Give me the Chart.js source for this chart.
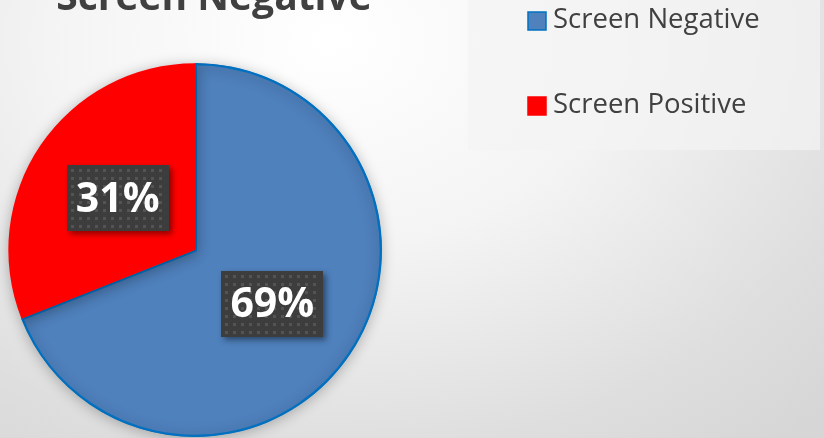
<!DOCTYPE html>
<html>
<head>
<meta charset="utf-8">
<script src="https://cdn.jsdelivr.net/npm/chart.js@4.4.0/dist/chart.umd.min.js"></script>
<style>
  html, body { margin: 0; padding: 0; }
  body {
    width: 824px; height: 438px; overflow: hidden;
    background: radial-gradient(ellipse 700px 520px at 330px 40px, #ffffff 0%, #f4f4f4 40%, #dedede 80%, #d6d6d6 100%);
  }
  #wrap { position: relative; width: 824px; height: 438px; }
</style>
</head>
<body>
<div id="wrap"><canvas id="chart" width="824" height="438"></canvas></div>
<script>
// chart values
const title_text = 'Screen Negative';
const labels = ['Screen Negative', 'Screen Positive'];
const values = [69, 31];
const fill_colors = ['#4F81BD', '#FF0000'];
const border_colors = ['#0070C0', '#FF0000'];

// shadow behind the pie
const pieShadow = {
  id: 'pieShadow',
  beforeDatasetsDraw(chart) {
    const ctx = chart.ctx;
    ctx.save();
    ctx.shadowColor = 'rgba(0,0,0,0.28)';
    ctx.shadowBlur = 14;
    ctx.shadowOffsetX = 0;
    ctx.shadowOffsetY = 2;
  },
  afterDatasetsDraw(chart) {
    chart.ctx.restore();
  }
};

// title, legend box and the percentage boxes
const extras = {
  id: 'extras',
  beforeDraw(chart) {
    const ctx = chart.ctx;
    // legend panel
    ctx.save();
    ctx.fillStyle = 'rgba(243,243,243,0.7)';
    ctx.fillRect(468, 0, 352, 150);
    ctx.restore();
  },
  afterDraw(chart) {
    const ctx = chart.ctx;
    ctx.save();
    // title (mostly cut off at the top)
    ctx.fillStyle = '#404040';
    ctx.font = 'bold 39px "Open Sans"';
    ctx.textAlign = 'center';
    ctx.textBaseline = 'alphabetic';
    ctx.fillText(title_text, 214, 10);

    // legend items
    ctx.textAlign = 'left';
    ctx.font = '27.5px "Open Sans"';
    const rowY = [11, 96];
    labels.forEach((lab, i) => {
      const y = rowY[i];
      ctx.fillStyle = fill_colors[i];
      ctx.fillRect(528, y + 1, 18, 18);
      ctx.strokeStyle = border_colors[i];
      ctx.lineWidth = 1.5;
      ctx.strokeRect(528, y + 1, 18, 18);
      ctx.fillStyle = '#404040';
      ctx.fillText(lab, 553, y + 17);
    });

    // data labels
    const meta = chart.getDatasetMeta(0);
    meta.data.forEach((arc, i) => {
      const p = arc.tooltipPosition();
      const w = 102, h = 66;
      const x0 = Math.round(p.x - w / 2), y0 = Math.round(p.y - h / 2) + 1;
      ctx.save();
      ctx.shadowColor = 'rgba(0,0,0,0.45)';
      ctx.shadowBlur = 6;
      ctx.shadowOffsetX = 3;
      ctx.shadowOffsetY = 3;
      ctx.fillStyle = '#3d3d3d';
      ctx.fillRect(x0, y0, w, h);
      ctx.restore();
      // dot pattern
      ctx.fillStyle = '#545454';
      for (let yy = y0 + 4; yy < y0 + h - 2; yy += 8) {
        for (let xx = x0 + 4; xx < x0 + w - 2; xx += 8) {
          ctx.fillRect(xx, yy, 3, 3);
        }
      }
      ctx.fillStyle = '#ffffff';
      ctx.font = 'bold 41px "Open Sans"';
      ctx.textAlign = 'center';
      ctx.textBaseline = 'middle';
      ctx.fillText(values[i] + '%', p.x, p.y + 3);
    });
    ctx.restore();
  }
};

new Chart(document.getElementById('chart'), {
  type: 'pie',
  data: {
    labels: labels,
    datasets: [{
      data: values,
      backgroundColor: fill_colors,
      borderColor: border_colors,
      borderWidth: [2, 0],
      borderAlign: 'inner'
    }]
  },
  options: {
    responsive: false,
    animation: false,
    layout: { padding: { left: 8, right: 442, top: 63, bottom: 1 } },
    plugins: {
      legend: { display: false },
      title: { display: false },
      tooltip: { enabled: false }
    }
  },
  plugins: [pieShadow, extras]
});
</script>
</body>
</html>
